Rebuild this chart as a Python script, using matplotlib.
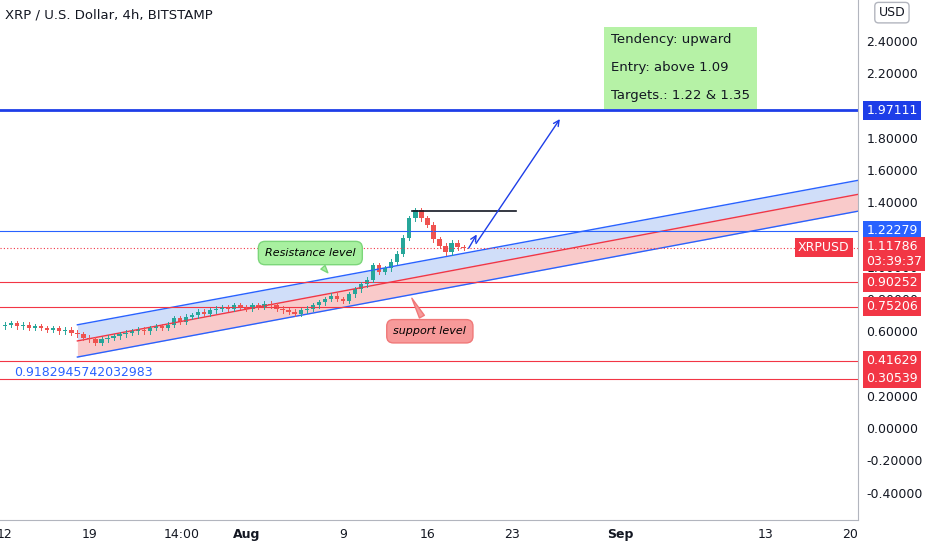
import matplotlib.pyplot as plt
from matplotlib.patches import Rectangle

# 12h candles, day 0 = Jul 12
closes = [0.64, 0.65, 0.63, 0.64, 0.62, 0.63, 0.62, 0.61, 0.62, 0.60, 0.61, 0.59,
          0.58, 0.56, 0.55, 0.53, 0.55, 0.56,
          0.57, 0.58, 0.59, 0.60, 0.61, 0.60, 0.62, 0.63, 0.62, 0.64,
          0.68, 0.66, 0.69, 0.70, 0.72, 0.71, 0.73, 0.74,
          0.75, 0.74, 0.76, 0.75, 0.74, 0.76, 0.75, 0.77, 0.76, 0.74,
          0.73, 0.72, 0.71, 0.73, 0.74, 0.76, 0.78, 0.80,
          0.82, 0.80, 0.79, 0.83, 0.86, 0.89,
          0.92, 1.01, 0.97, 0.99, 1.03, 1.08,
          1.18, 1.30, 1.35, 1.30, 1.26, 1.17,
          1.13, 1.09, 1.15, 1.12, 1.118]
first_open = 0.63

tick_days = [0, 7, 14.6, 20, 28, 35, 42, 51, 63, 70]
tick_labels = ["12", "19", "14:00", "Aug", "9", "16", "23", "Sep", "13", "20"]

price_levels = [1.97111, 1.22279, 0.90252, 0.75206, 0.41629, 0.30539]
level_colors = ["#1e3ee8", "#2962ff", "#f23645", "#f23645", "#f23645", "#f23645"]
last_price = 1.11786

channel_x = [6.0, 80.0]
channel_top = [0.64, 1.665]
channel_mid = [0.54, 1.58]
channel_bot = [0.44, 1.475]

fig = plt.figure(figsize=(9.32, 5.5), dpi=100)
ax = fig.add_axes([0.0, 0.0545, 0.9206, 0.9455])
ax.set_xlim(-0.41, 70.67)
ax.set_ylim(-0.5705, 2.654)

# channel
ax.fill_between(channel_x, channel_mid, channel_top, color="#bcd0f7", alpha=0.7, lw=0)
ax.fill_between(channel_x, channel_bot, channel_mid, color="#f7b4b4", alpha=0.7, lw=0)
ax.plot(channel_x, channel_top, color="#2962ff", lw=1)
ax.plot(channel_x, channel_mid, color="#f23645", lw=1)
ax.plot(channel_x, channel_bot, color="#2962ff", lw=1)

# horizontal levels
for lv, c in zip(price_levels, level_colors):
    ax.axhline(lv, color=c, lw=2 if lv == 1.97111 else 0.8)
ax.axhline(last_price, color="#f23645", lw=0.8, ls=(0, (1, 2)))

# candles
opens = [first_open] + closes[:-1]
for i, (o, c) in enumerate(zip(opens, closes)):
    d = i * 0.5
    col = "#26a69a" if c >= o else "#ef5350"
    hi, lo = max(o, c) + 0.015, min(o, c) - 0.015
    ax.plot([d, d], [lo, hi], color=col, lw=0.7)
    ax.add_patch(Rectangle((d - 0.18, min(o, c)), 0.36, max(abs(c - o), 0.004), color=col, lw=0))

# drawings
ax.plot([33.7, 42.3], [1.346, 1.346], color="#131722", lw=1.2)
ax.annotate("", xy=(39.2, 1.215), xytext=(38.3, 1.10),
            arrowprops=dict(arrowstyle="->", color="#1e3ee8", lw=1))
ax.annotate("", xy=(46.1, 1.93), xytext=(38.9, 1.13),
            arrowprops=dict(arrowstyle="->", color="#1e3ee8", lw=1))

ax.text(0.8, 0.347, "0.9182945742032983", color="#2962ff", fontsize=9, va="center")

ax.text(50.2, 2.02, "Tendency: upward\n\nEntry: above 1.09\n\nTargets.: 1.22 & 1.35",
        fontsize=9.5, color="#131722", va="bottom", linespacing=1.1,
        bbox=dict(boxstyle="square,pad=0.5", fc="#b6f2a6", ec="none"))

ax.annotate("Resistance level", xy=(26.9, 0.95), xytext=(25.3, 1.085),
            fontsize=8, style="italic", ha="center", va="center",
            bbox=dict(boxstyle="round,pad=0.6", fc="#a8f0a0", ec="#7cd67a"),
            arrowprops=dict(arrowstyle="wedge,tail_width=0.5", fc="#a8f0a0", ec="#7cd67a"))
ax.annotate("support level", xy=(33.6, 0.82), xytext=(35.2, 0.60),
            fontsize=8, style="italic", ha="center", va="center",
            bbox=dict(boxstyle="round,pad=0.6", fc="#f79a9a", ec="#f07878"),
            arrowprops=dict(arrowstyle="wedge,tail_width=0.5", fc="#f79a9a", ec="#f07878"))

# axes styling
ax.set_xticks(tick_days)
ax.set_xticklabels(tick_labels, fontsize=9, color="#131722")
ax.set_xticklabels
for t, lab in zip(ax.get_xticklabels(), tick_labels):
    if lab in ("Aug", "Sep"):
        t.set_fontweight("bold")
ax.yaxis.tick_right()
yt = [round(-0.4 + 0.2 * k, 1) for k in range(15)]
ax.set_yticks(yt)
ax.set_yticklabels([f"{v:.5f}" for v in yt], fontsize=9, color="#131722")
ax.tick_params(length=0, pad=6)
for s in ["top", "left"]:
    ax.spines[s].set_visible(False)
ax.spines["right"].set_color("#b2b5be")
ax.spines["bottom"].set_color("#b2b5be")

for lv, c in zip(price_levels, level_colors):
    ax.annotate(f"{lv:.5f}", xy=(1.0, lv), xycoords=("axes fraction", "data"),
                xytext=(6, 0), textcoords="offset points", fontsize=9, color="white",
                va="center", bbox=dict(boxstyle="square,pad=0.25", fc=c, ec="none"))
ax.annotate(f"{last_price:.5f}\n03:39:37", xy=(1.0, last_price - 0.04),
            xycoords=("axes fraction", "data"), xytext=(6, 0), textcoords="offset points",
            fontsize=9, color="white", va="center",
            bbox=dict(boxstyle="square,pad=0.25", fc="#f23645", ec="none"))
ax.annotate("XRPUSD", xy=(1.0, last_price), xycoords=("axes fraction", "data"),
            xytext=(-6, 0), textcoords="offset points", fontsize=9, color="white",
            va="center", ha="right", bbox=dict(boxstyle="square,pad=0.25", fc="#f23645", ec="none"))
fig.text(0.957, 0.977, "USD", fontsize=9, color="#131722", ha="center", va="center",
         bbox=dict(boxstyle="round,pad=0.3", fc="white", ec="#b2b5be"))

fig.text(0.005, 0.972, "XRP / U.S. Dollar, 4h, BITSTAMP", fontsize=9.5, color="#131722", va="center")

fig.savefig("out.png", dpi=100)
